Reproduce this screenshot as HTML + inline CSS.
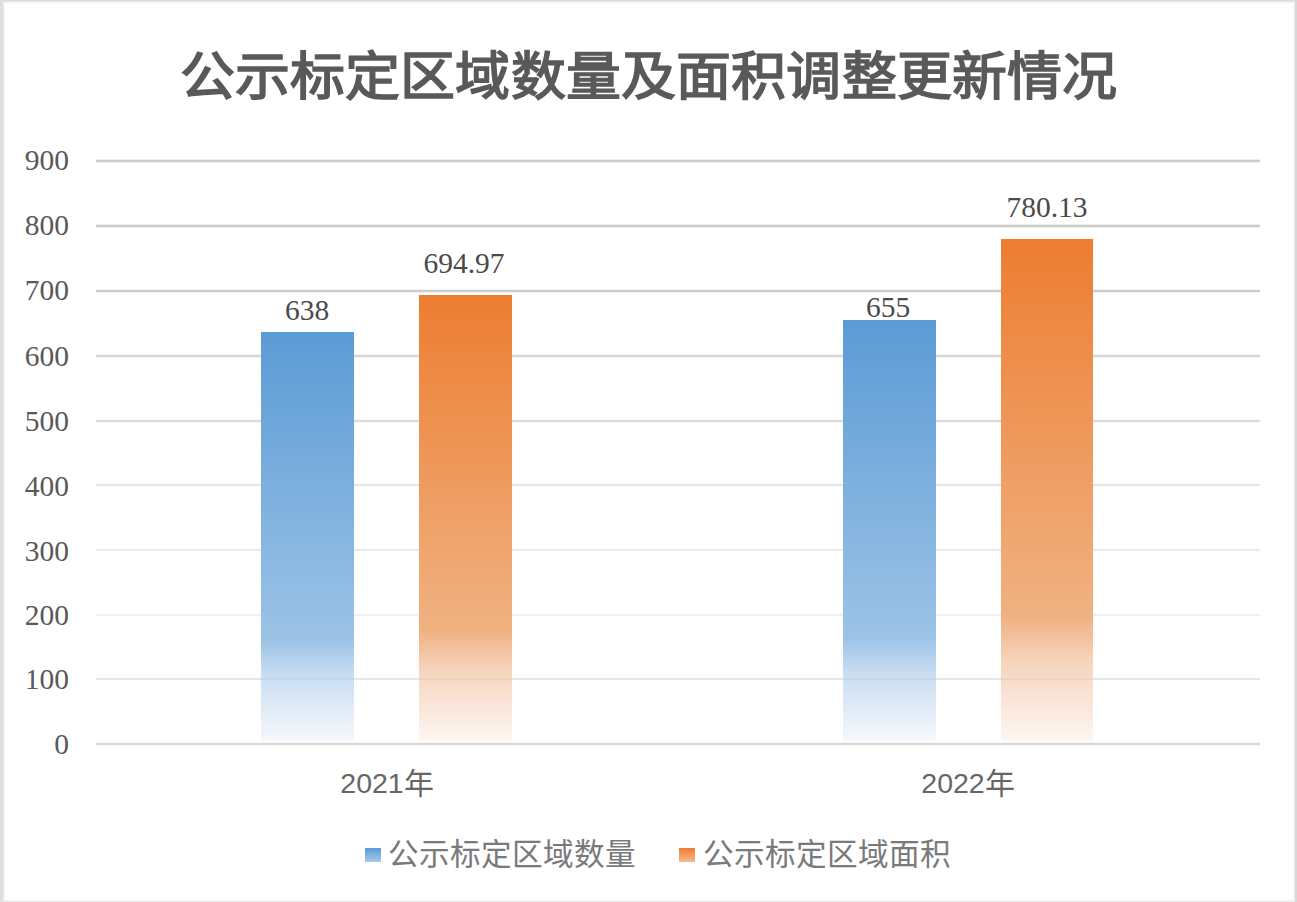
<!DOCTYPE html>
<html lang="zh-CN">
<head>
<meta charset="utf-8">
<title>公示标定区域数量及面积调整更新情况</title>
<style>
html,body{margin:0;padding:0;}
body{width:1297px;height:902px;position:relative;overflow:hidden;background:#fff;font-family:"Liberation Sans",sans-serif;}
.wrap{position:absolute;left:0;top:0;width:1297px;height:902px;}
.fr{position:absolute;}
.title{position:absolute;left:0;width:1297px;top:43px;text-align:center;font-size:55px;line-height:66px;font-weight:700;letter-spacing:0.15px;color:#595959;white-space:nowrap;transform:scaleY(0.96);transform-origin:50% 57px;}
.grid{position:absolute;left:96px;width:1164px;height:2px;}
.ylab{position:absolute;left:0;width:69px;text-align:right;font-family:"Liberation Serif",serif;font-size:29.5px;line-height:30px;color:#595959;}
.bar{position:absolute;}
.blue{background:linear-gradient(to bottom,#5b9bd5 0%,#9cc3e6 75.5%,#b2d0ec 79.5%,#c9ddf2 84%,#dde9f6 91%,#f5f8fc 100%);}
.orange{background:linear-gradient(to bottom,#ed7d31 0%,#f0b282 75.5%,#f2c29f 79.5%,#f6d4bb 84%,#f9e3d6 91%,#fef6f1 100%);}
.val{position:absolute;text-align:center;font-family:"Liberation Serif",serif;font-size:29.5px;line-height:30px;color:#4a4a4a;}
.nian{font-size:30px;position:relative;top:1px;}
.xlab{position:absolute;text-align:center;font-size:28.5px;line-height:32px;color:#666666;white-space:nowrap;}
.leg{position:absolute;top:833.5px;font-size:30.6px;font-weight:400;line-height:40px;color:#7a7a7a;white-space:nowrap;}
.sw{position:absolute;width:16px;height:14px;top:848px;}
</style>
</head>
<body>
<div class="wrap">
<div class="fr" style="left:3px;top:0;width:1px;height:902px;background:#ebebeb"></div>
<div class="fr" style="left:4px;top:0;width:1px;height:902px;background:#f6f6f6"></div>
<div class="fr" style="left:1293px;top:0;width:1px;height:902px;background:#fafafa"></div>
<div class="fr" style="left:1294px;top:0;width:1px;height:902px;background:#ebebeb"></div>
<div class="fr" style="left:0;top:0;width:1297px;height:1px;background:#dadada"></div>
<div class="fr" style="left:0;top:1px;width:1297px;height:1px;background:#e9e9e9"></div>
<div class="fr" style="left:0;top:2px;width:1297px;height:1px;background:#f3f3f3"></div>
<div class="fr" style="left:0;top:3px;width:1297px;height:1px;background:#f9f9f9"></div>
<div class="fr" style="left:0;top:900px;width:1297px;height:1px;background:#f4f4f4"></div>
<div class="fr" style="left:0;top:901px;width:1297px;height:1px;background:#ebebeb"></div>
<div class="fr" style="left:0;top:0;width:3px;height:902px;background:#dfdfdf"></div>
<div class="fr" style="left:1295px;top:0;width:2px;height:902px;background:#d8d8d8"></div>
<div class="title">公示标定区域数量及面积调整更新情况</div>



<div class="grid" style="top:160px;background:#cacaca;box-shadow:0 1px 0 #f0f0f0,0 -1px 0 #f0f0f0"></div>
<div class="grid" style="top:225px;background:#cacaca;box-shadow:0 1px 0 #f0f0f0,0 -1px 0 #f0f0f0"></div>
<div class="grid" style="top:290px;background:#cdcdcd;box-shadow:0 1px 0 #f2f2f2,0 -1px 0 #f2f2f2"></div>
<div class="grid" style="top:355px;background:#d6d6d6;box-shadow:0 1px 0 #f6f6f6,0 -1px 0 #f6f6f6"></div>
<div class="grid" style="top:420px;background:#dcdcdc;box-shadow:0 1px 0 #f9f9f9,0 -1px 0 #f9f9f9"></div>
<div class="grid" style="top:484px;background:#e6e6e6;box-shadow:0 1px 0 #fefefe,0 -1px 0 #fefefe"></div>
<div class="grid" style="top:549px;background:#ebebeb;box-shadow:0 1px 0 #fefefe,0 -1px 0 #fefefe"></div>
<div class="grid" style="top:614px;background:#efefef;box-shadow:0 1px 0 #fefefe,0 -1px 0 #fefefe"></div>
<div class="grid" style="top:678px;background:#f1f1f1;box-shadow:0 1px 0 #fefefe,0 -1px 0 #fefefe"></div>
<div class="grid" style="top:743px;background:#d8d8d8;box-shadow:0 1px 0 #f7f7f7,0 -1px 0 #f7f7f7"></div>
<div class="ylab" style="top:145px">900</div>
<div class="ylab" style="top:210px">800</div>
<div class="ylab" style="top:275px">700</div>
<div class="ylab" style="top:341px">600</div>
<div class="ylab" style="top:406px">500</div>
<div class="ylab" style="top:471px">400</div>
<div class="ylab" style="top:536px">300</div>
<div class="ylab" style="top:600px">200</div>
<div class="ylab" style="top:664px">100</div>
<div class="ylab" style="top:729px">0</div>

<div class="bar blue" style="left:261px;width:93px;top:332px;height:409px"></div>
<div class="bar orange" style="left:419px;width:93px;top:295px;height:446px"></div>
<div class="bar blue" style="left:843px;width:93px;top:320px;height:421px"></div>
<div class="bar orange" style="left:1001px;width:92px;top:239px;height:502px"></div>

<div class="grid" style="top:678px;background:rgba(0,0,0,0.04)"></div>

<div class="val" style="left:257px;width:100px;top:295px">638</div>
<div class="val" style="left:414px;width:100px;top:248px">694.97</div>
<div class="val" style="left:838px;width:100px;top:292px">655</div>
<div class="val" style="left:997px;width:100px;top:192px">780.13</div>

<div class="xlab" style="left:287px;width:200px;top:767px">2021<span class="nian">年</span></div>
<div class="xlab" style="left:868px;width:200px;top:767px">2022<span class="nian">年</span></div>

<div class="sw" style="left:365px;background:linear-gradient(to bottom,#5b9bd5,#a6c9ea)"></div>
<div class="leg" style="left:388px">公示标定区域数量</div>
<div class="sw" style="left:679px;background:linear-gradient(to bottom,#ed7d31,#f5ba92)"></div>
<div class="leg" style="left:703px">公示标定区域面积</div>
</div>
</body>
</html>
